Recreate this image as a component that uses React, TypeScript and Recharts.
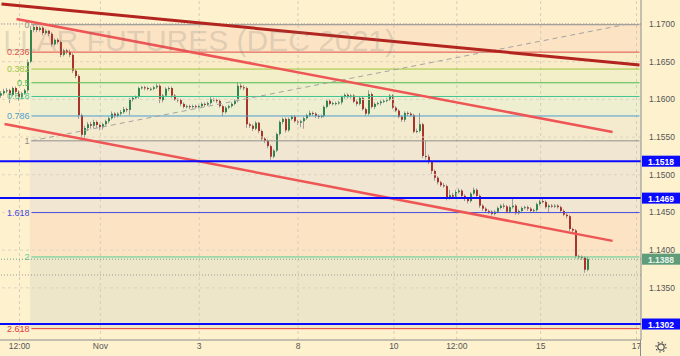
import React from "react";
import { ComposedChart, Bar, XAxis, YAxis, ReferenceLine, ReferenceArea } from "recharts";

// ---------- data (prices in pips: 11608 = 1.1608) ----------
const FIRST_OPEN_PIPS = 11605;
const closePips = [
  11608, 11611, 11612, 11606, 11615, 11610, 11603, 11608, 11612, 11650,
  11692, 11696, 11692, 11695, 11688, 11691, 11687, 11673, 11679, 11676,
  11659, 11665, 11663, 11659, 11638, 11631, 11579, 11553, 11562, 11567,
  11565, 11570, 11566, 11563, 11567, 11571, 11575, 11581, 11578, 11581,
  11583, 11587, 11586, 11600, 11602, 11603, 11615, 11616, 11615, 11614,
  11614, 11616, 11618, 11599, 11605, 11614, 11615, 11605, 11600, 11599,
  11594, 11590, 11591, 11590, 11591, 11590, 11591, 11594, 11593, 11595,
  11600, 11599, 11598, 11591, 11583, 11589, 11591, 11594, 11598, 11618,
  11616, 11615, 11567, 11565, 11561, 11569, 11558, 11548, 11545, 11538,
  11524, 11532, 11554, 11570, 11574, 11559, 11574, 11577, 11571, 11569,
  11571, 11575, 11579, 11582, 11581, 11578, 11577, 11578, 11590, 11598,
  11594, 11595, 11595, 11596, 11603, 11606, 11603, 11605, 11597, 11594,
  11602, 11587, 11581, 11607, 11590, 11594, 11595, 11597, 11598, 11600,
  11605, 11589, 11585, 11577, 11573, 11582, 11581, 11579, 11557, 11558,
  11567, 11525, 11524, 11517, 11505, 11496, 11490, 11486, 11485, 11469,
  11473, 11471, 11477, 11479, 11472, 11468, 11465, 11475, 11480, 11472,
  11459, 11455, 11452, 11451, 11448, 11451, 11456, 11459, 11458, 11451,
  11457, 11459, 11449, 11452, 11456, 11457, 11455, 11452, 11453, 11461,
  11465, 11464, 11457, 11459, 11458, 11459, 11457, 11452, 11447, 11445,
  11428, 11426, 11392, 11391, 11390, 11374, 11388,
];
const highPips = [
  11611, 11614, 11615, 11614, 11617, 11617, 11612, 11610, 11614, 11653,
  11697, 11700, 11698, 11697, 11697, 11693, 11692, 11689, 11681, 11681,
  11678, 11667, 11667, 11666, 11661, 11640, 11633, 11581, 11565, 11570,
  11570, 11573, 11572, 11568, 11569, 11573, 11577, 11584, 11583, 11583,
  11586, 11590, 11589, 11602, 11604, 11605, 11617, 11618, 11618, 11617,
  11616, 11618, 11621, 11620, 11607, 11616, 11617, 11617, 11607, 11602,
  11601, 11596, 11593, 11593, 11593, 11593, 11593, 11596, 11596, 11597,
  11603, 11602, 11601, 11600, 11593, 11591, 11593, 11596, 11600, 11623,
  11621, 11619, 11617, 11569, 11567, 11571, 11570, 11560, 11550, 11547,
  11540, 11534, 11556, 11572, 11576, 11576, 11576, 11579, 11579, 11573,
  11573, 11577, 11581, 11585, 11584, 11583, 11580, 11580, 11592, 11600,
  11600, 11597, 11597, 11598, 11605, 11608, 11608, 11607, 11607, 11599,
  11604, 11604, 11589, 11612, 11609, 11596, 11597, 11599, 11600, 11602,
  11607, 11607, 11591, 11587, 11579, 11584, 11584, 11583, 11581, 11561,
  11582, 11569, 11545, 11527, 11519, 11507, 11498, 11492, 11489, 11487,
  11480, 11476, 11480, 11482, 11481, 11474, 11470, 11477, 11483, 11482,
  11474, 11461, 11457, 11454, 11453, 11453, 11458, 11461, 11462, 11460,
  11459, 11470, 11461, 11454, 11458, 11459, 11459, 11457, 11455, 11463,
  11467, 11468, 11466, 11461, 11461, 11461, 11461, 11459, 11454, 11449,
  11447, 11430, 11428, 11394, 11393, 11392, 11391,
];
const lowPips = [
  11602, 11605, 11608, 11595, 11604, 11607, 11598, 11601, 11606, 11609,
  11648, 11689, 11689, 11690, 11685, 11686, 11684, 11670, 11671, 11673,
  11656, 11657, 11660, 11656, 11635, 11628, 11574, 11545, 11549, 11558,
  11561, 11562, 11562, 11559, 11560, 11565, 11568, 11573, 11575, 11576,
  11578, 11581, 11583, 11579, 11597, 11600, 11601, 11613, 11612, 11612,
  11611, 11612, 11614, 11595, 11596, 11603, 11611, 11602, 11598, 11596,
  11591, 11588, 11588, 11587, 11588, 11588, 11588, 11589, 11590, 11591,
  11593, 11597, 11595, 11589, 11578, 11581, 11587, 11589, 11592, 11596,
  11613, 11612, 11562, 11562, 11558, 11559, 11555, 11545, 11542, 11535,
  11520, 11522, 11530, 11552, 11567, 11556, 11557, 11572, 11569, 11566,
  11563, 11561, 11573, 11577, 11578, 11575, 11574, 11575, 11576, 11588,
  11592, 11592, 11592, 11593, 11593, 11601, 11601, 11601, 11595, 11591,
  11592, 11585, 11578, 11579, 11588, 11587, 11592, 11592, 11595, 11596,
  11598, 11587, 11583, 11575, 11570, 11570, 11578, 11577, 11555, 11555,
  11556, 11522, 11520, 11514, 11501, 11492, 11487, 11484, 11483, 11466,
  11467, 11468, 11469, 11475, 11469, 11465, 11462, 11463, 11473, 11469,
  11456, 11452, 11450, 11448, 11446, 11446, 11449, 11454, 11455, 11449,
  11449, 11455, 11447, 11447, 11450, 11454, 11452, 11450, 11450, 11451,
  11459, 11462, 11455, 11450, 11456, 11456, 11455, 11450, 11445, 11442,
  11425, 11423, 11389, 11388, 11387, 11370, 11372,
];
const SLOTS = 214; // bar slots across the time axis (the rest is empty future space)

const xTickIdx = [6, 33, 66, 99, 131, 152, 180, 212];
const xTickLabels = ["12:00", "Nov", "3", "8", "10", "12:00", "15", "17"];
const yTicks = [1.135, 1.14, 1.145, 1.15, 1.155, 1.16, 1.165, 1.17];

const fibHigh = 1.1699;
const fibLow = 1.1545;
const fibLevels = [0, 0.236, 0.382, 0.5, 0.618, 0.786, 1, 1.618, 2, 2.618];
const fibLabels = ["0", "0.236", "0.382", "0.5", "0.618", "0.786", "1", "1.618", "2", "2.618"];
const fibColors = ["#8f8f8f", "#e0504a", "#9cc63f", "#4cbb4c", "#3fc592", "#4b9fd0", "#8f8f8f", "#4a4ae0", "#5ccf93", "#e53935"];
const fibBandFills = ["#fbe3c3", "#f9ecc7", "#f3efc9", "#eef0cb", "#eeefd1", "#f4ebcf", "#f0e6d1", "#fce3c3", "#eee6c8"];

const keyLevels = [1.1518, 1.1469, 1.1302];
const lastPrice = 1.1388;
const dottedLevels = [1.17, 1.1367];

const trendLines = [
  { x1: 0, y1: 1.17265, x2: 213, y2: 1.16456, color: "#b3241f", w: 3 },
  { x1: 5, y1: 1.17066, x2: 204, y2: 1.15568, color: "#ee5656", w: 2.5 },
  { x1: 1, y1: 1.15674, x2: 204, y2: 1.14123, color: "#ee5656", w: 2.5 },
];
const fibStartIdx = 10;
const fibEndIdx = 213;
const fibTrendEndIdx = 208;

const watermark = "LLAR FUTURES (DEC 2021)";

// ---------- build ----------
const data = Array.from({ length: SLOTS }, (_, t) => {
  if (t < closePips.length) {
    return {
      t,
      o: (t === 0 ? FIRST_OPEN_PIPS : closePips[t - 1]) / 10000,
      h: highPips[t] / 10000,
      l: lowPips[t] / 10000,
      c: closePips[t] / 10000,
    };
  }
  return { t, o: null, h: null, l: null, c: null };
});

const fibPrices = fibLevels.map((lv) => fibHigh - lv * (fibHigh - fibLow));
const xLabelMap: Record<number, string> = {};
xTickIdx.forEach((v, i) => (xLabelMap[v] = xTickLabels[i]));

const FONT = "'Liberation Sans', Arial, sans-serif";
const UP = "#33844f";
const DOWN = "#a8352a";
const WICK = "#9c9c9c";

const Candle = (props: any) => {
  const { x, y, width, height, payload } = props;
  if (!payload || payload.o == null || !isFinite(y) || !isFinite(height)) return null;
  const { o, h, l, c } = payload;
  const top = Math.min(y, y + height);
  const hh = Math.abs(height);
  const py = (p: number) => top + ((h - p) / (h - l)) * hh;
  const c0 = Math.floor(x + width / 2);
  const bt = py(Math.max(o, c));
  const bb = py(Math.min(o, c));
  return (
    <g>
      <line x1={c0 - 0.5} x2={c0 - 0.5} y1={top} y2={top + hh} stroke={WICK} strokeWidth={1} />
      <rect x={c0 - 1} y={bt} width={2} height={Math.max(1, bb - bt)} fill={c >= o ? UP : DOWN} />
    </g>
  );
};

const PriceTag = (props: any) => {
  const { viewBox, text, fill, color } = props;
  if (!viewBox) return null;
  const { x, y, width } = viewBox;
  return (
    <g>
      <rect x={x + width + 1} y={y - 5.5} width={38} height={11} fill={fill} />
      <text x={x + width + 20} y={y + 0.5} textAnchor="middle" dominantBaseline="central" fontSize={8.5} fontWeight="bold" fill={color} fontFamily={FONT}>
        {text}
      </text>
    </g>
  );
};

const FibLabel = (props: any) => {
  const { viewBox, text, color } = props;
  if (!viewBox) return null;
  return (
    <text x={viewBox.x - 2} y={viewBox.y} textAnchor="end" dominantBaseline="central" fontSize={9} fill={color} fontFamily={FONT}>
      {text}
    </text>
  );
};

export default function App() {
  return (
    <div style={{ position: "absolute", left: 0, top: 0, width: 680, height: 356, background: "#fdf1ce", overflow: "hidden" }}>
      <ComposedChart width={680} height={356} data={data} margin={{ top: 0, right: 0, bottom: 0, left: 0 }} barCategoryGap={0}>
        <XAxis
          dataKey="t"
          type="category"
          ticks={xTickIdx}
          interval={0}
          tickFormatter={(v: any) => xLabelMap[v] ?? ""}
          height={16}
          axisLine={{ stroke: "#8c8c8c" }}
          tickLine={false}
          tickSize={0}
          tickMargin={3}
          tick={{ fontSize: 8.5, fill: "#555", fontFamily: FONT }}
        />
        <YAxis
          orientation="right"
          type="number"
          domain={[1.12808, 1.17318]}
          allowDataOverflow
          ticks={yTicks}
          width={39}
          axisLine={{ stroke: "#8c8c8c" }}
          tickLine={false}
          tickSize={0}
          tickMargin={8}
          tick={{ fontSize: 8.5, fill: "#555", fontFamily: FONT }}
          tickFormatter={(v: number) => v.toFixed(4)}
        />
        {fibBandFills.map((f, i) => (
          <ReferenceArea key={"band" + i} x1={fibStartIdx} x2={fibEndIdx} y1={fibPrices[i + 1]} y2={fibPrices[i]} fill={f} fillOpacity={1} stroke="none" ifOverflow="visible" />
        ))}
        {xTickIdx.map((v) => (
          <ReferenceLine key={"vg" + v} x={v} stroke="#d6cdbb" strokeDasharray="3 3" strokeWidth={1} />
        ))}
        {yTicks.map((v) => (
          <ReferenceLine key={"hg" + v} y={v} stroke="#ddd4c2" strokeDasharray="3 3" strokeWidth={1} />
        ))}
        {fibPrices.map((p, i) => (
          <ReferenceLine
            key={"fib" + i}
            segment={[{ x: fibStartIdx, y: p }, { x: fibEndIdx, y: p }]}
            stroke={fibColors[i]}
            strokeWidth={1}
            ifOverflow="visible"
            label={<FibLabel text={fibLabels[i]} color={fibColors[i]} />}
          />
        ))}
        {dottedLevels.map((p) => (
          <ReferenceLine key={"dot" + p} y={p} stroke="#9a9a9a" strokeDasharray="1 2" strokeWidth={1} />
        ))}
        <ReferenceLine
          segment={[{ x: fibStartIdx, y: fibLow }, { x: fibTrendEndIdx, y: fibHigh }]}
          stroke="#a3a3a3"
          strokeDasharray="5 4"
          strokeWidth={1}
          ifOverflow="visible"
        />
        <Bar dataKey={(d: any) => (d.o == null ? null : [d.l, d.h])} shape={<Candle />} isAnimationActive={false} />
        {trendLines.map((tl, i) => (
          <ReferenceLine
            key={"tl" + i}
            segment={[{ x: tl.x1, y: tl.y1 }, { x: tl.x2, y: tl.y2 }]}
            stroke={tl.color}
            strokeWidth={tl.w}
            ifOverflow="visible"
          />
        ))}
        <ReferenceLine
          y={lastPrice}
          stroke="#6da486"
          strokeDasharray="1 2"
          strokeWidth={1}
          label={<PriceTag text={lastPrice.toFixed(4)} fill="#5e9c7a" color="#e9f4ec" />}
        />
        {keyLevels.map((p) => (
          <ReferenceLine
            key={"key" + p}
            y={p}
            stroke="#0a0aff"
            strokeWidth={2}
            label={<PriceTag text={p.toFixed(4)} fill="#0a0aff" color="#ffffff" />}
          />
        ))}
      </ComposedChart>
      <svg width={641} height={340} style={{ position: "absolute", left: 0, top: 0, pointerEvents: "none" }}>
        <text x={395} y={51} textAnchor="end" fontSize={30} fill="rgba(110,110,110,0.2)" fontFamily={FONT}>
          {watermark}
        </text>
      </svg>
      <div style={{ position: "absolute", left: 640, top: 340, width: 1, height: 16, background: "#8c8c8c" }} />
      <svg width={16} height={16} style={{ position: "absolute", left: 653, top: 339 }}>
        <circle cx={8} cy={8} r={3.2} fill="none" stroke="#555" strokeWidth={1.2} />
        <circle cx={8} cy={8} r={5} fill="none" stroke="#555" strokeWidth={1.2} strokeDasharray="1.6 2.3" />
      </svg>
    </div>
  );
}
